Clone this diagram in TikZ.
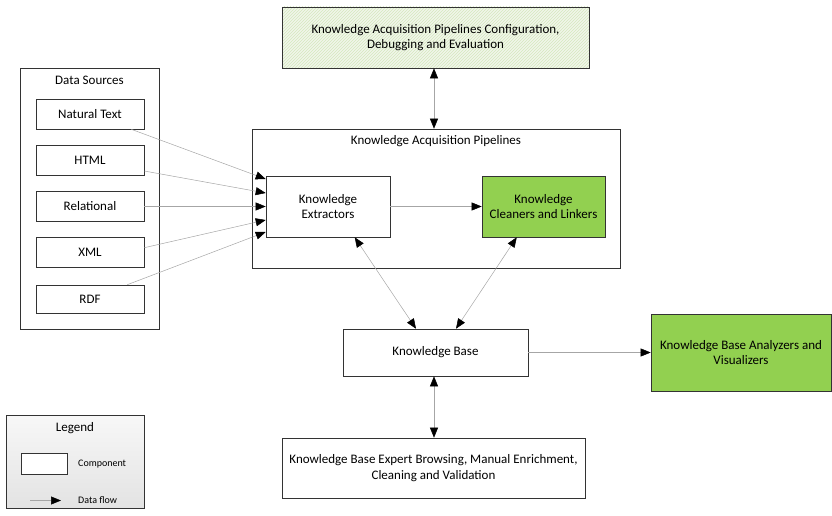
\documentclass[tikz,border=0pt]{standalone}
\usepackage{fontspec}
\setmainfont{Carlito}
\usetikzlibrary{arrows.meta,patterns,calc}
\definecolor{lgreen}{HTML}{92D050}
\definecolor{hatchbg}{HTML}{F1F6EA}
\definecolor{hatchln}{HTML}{D5E8BE}
\definecolor{flowgray}{HTML}{A6A6A6}
\tikzset{
  box/.style={draw=black!80, line width=0.6pt, fill=white, align=center, font=\fontsize{13}{15.5}\selectfont, inner sep=2pt},
  container/.style={draw=black!80, line width=0.6pt, fill=white},
  flow/.style={draw=flowgray, line width=0.5pt, -{Triangle[black,length=10pt,width=8pt]}},
  flow2/.style={draw=flowgray, line width=0.5pt, {Triangle[black,length=10pt,width=8pt]}-{Triangle[black,length=10pt,width=8pt]}},
  ttl/.style={font=\fontsize{13}{15.5}\selectfont, inner sep=0pt},
  small/.style={font=\fontsize{10}{11}\selectfont, inner sep=0pt, anchor=west}
}
\begin{document}
\begin{tikzpicture}[x=1pt,y=-1pt]
\useasboundingbox (0,0) rectangle (832,516);
% top config box
\node[box, preaction={fill=hatchbg}, pattern=north east lines, pattern color=hatchln, minimum width=307pt, minimum height=61pt] (cfg) at (435.5,37.5) {Knowledge Acquisition Pipelines Configuration,\\Debugging and Evaluation};
% data sources
\node[container, minimum width=139pt, minimum height=261pt] (ds) at (89.5,198.5) {};
\node[ttl] (dst) at (89.5,80) {Data Sources};
\node[box, minimum width=108pt, minimum height=30pt] (nat) at (90,114) {Natural Text};
\node[box, minimum width=108pt, minimum height=30pt] (html) at (90,160.5) {HTML};
\node[box, minimum width=108pt, minimum height=30pt] (rel) at (90,206.5) {Relational};
\node[box, minimum width=108pt, minimum height=30pt] (xml) at (90,252.5) {XML};
\node[box, minimum width=108pt, minimum height=28pt] (rdf) at (90,299) {RDF};
% pipelines
\node[container, minimum width=368pt, minimum height=139pt] (kap) at (436,198.5) {};
\node[ttl] (kapt) at (436,141) {Knowledge Acquisition Pipelines};
\node[box, minimum width=124pt, minimum height=61pt] (ext) at (328,206.5) {Knowledge\\Extractors};
\node[box, fill=lgreen, minimum width=123pt, minimum height=61pt] (cln) at (543.5,206.5) {Knowledge\\Cleaners and Linkers};
% knowledge base
\node[box, minimum width=185pt, minimum height=47pt] (kb) at (435.5,352.5) {Knowledge Base};
\node[box, fill=lgreen, minimum width=180pt, minimum height=77pt] (ana) at (741,352.5) {Knowledge Base Analyzers and\\Visualizers};
\node[box, minimum width=303pt, minimum height=60pt] (exp) at (433.5,468) {Knowledge Base Expert Browsing, Manual Enrichment,\\Cleaning and Validation};
% legend
\node[draw=black!80, line width=0.6pt, top color=gray!6, bottom color=gray!22, minimum width=138pt, minimum height=93pt] (leg) at (75,461.5) {};
\node[ttl] (legt) at (75,428) {Legend};
\node[draw=black!80, line width=0.6pt, fill=white, minimum width=46pt, minimum height=21pt] (legc) at (44,463.5) {};
\node[small] (legct) at (78,464) {Component};
\coordinate (lfa) at (30,500.5);
\coordinate (lfb) at (61,500.5);
\draw[flow] (lfa) -- (lfb);
\node[small] (legft) at (78,500.5) {Data flow};
% connectors
\draw[flow] ([xshift=-13pt]nat.south east) -- ([yshift=27.5pt]ext.west);
\draw[flow] ([yshift=-10.5pt]html.east) -- ([yshift=13.5pt]ext.west);
\draw[flow] (rel.east) -- (ext.west);
\draw[flow] ([yshift=-10.5pt]xml.north east) -- ([yshift=-13.5pt]ext.west);
\draw[flow] ([xshift=-17pt]rdf.north east) -- ([yshift=-25.5pt]ext.west);
\draw[flow] (ext.east) -- (cln.west);
\draw[flow2] ([xshift=-1.5pt]cfg.south) -- ([xshift=-2pt]kap.north);
\draw[flow2] ([xshift=89pt]ext.south west) -- ([xshift=-19.5pt]kb.north);
\draw[flow2] ([xshift=35pt]cln.south west) -- ([xshift=20.5pt]kb.north);
\draw[flow] (kb.east) -- (ana.west);
\draw[flow2] ([xshift=-1.5pt]kb.south) -- ([xshift=0.5pt]exp.north);
\end{tikzpicture}
\end{document}
